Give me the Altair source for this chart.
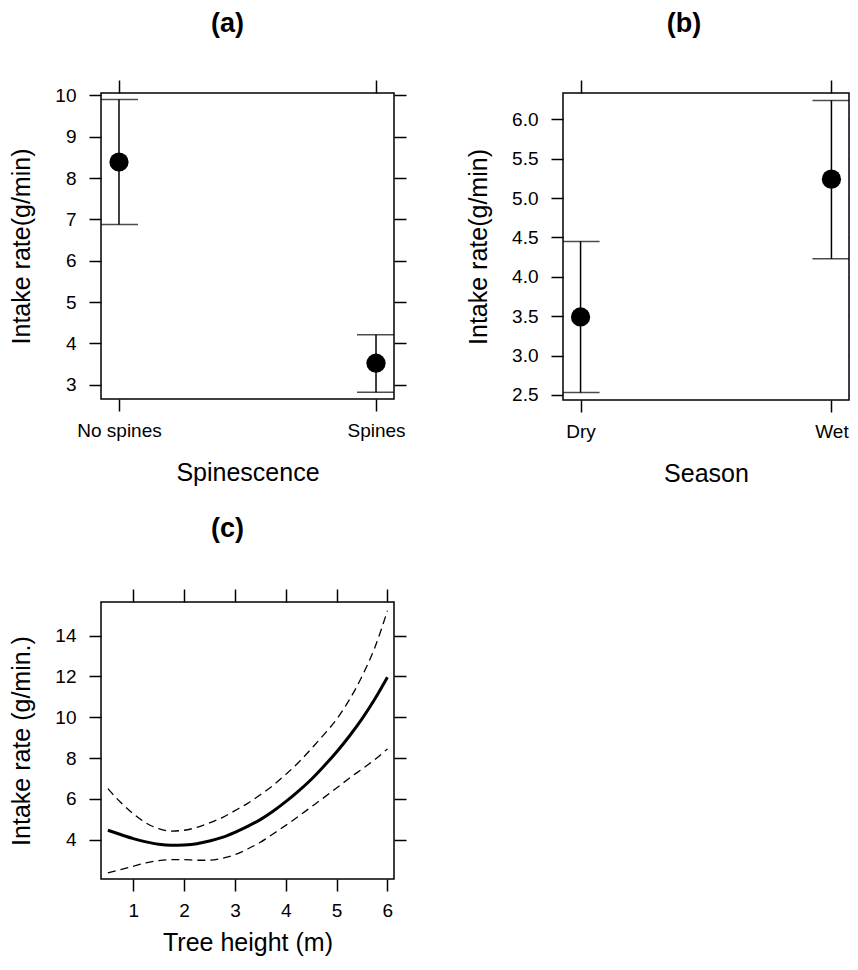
import altair as alt
import pandas as pd

FONT = "Liberation Sans"

# ---- Panel (a): spinescence ----
spine_cats = ["No spines", "Spines"]
spine_mean = [8.39, 3.52]
spine_lo = [6.88, 2.82]
spine_hi = [9.90, 4.21]
spine_yticks = [3, 4, 5, 6, 7, 8, 9, 10]

# ---- Panel (b): season ----
season_cats = ["Dry", "Wet"]
season_mean = [3.49, 5.24]
season_lo = [2.53, 4.23]
season_hi = [4.45, 6.24]
season_yticks = [2.5, 3.0, 3.5, 4.0, 4.5, 5.0, 5.5, 6.0]

# ---- Panel (c): tree height ----
tree_height = [0.5, 0.75, 1.0, 1.25, 1.5, 1.75, 2.0, 2.25, 2.5, 2.75, 3.0, 3.25,
               3.5, 3.75, 4.0, 4.25, 4.5, 4.75, 5.0, 5.25, 5.5, 5.75, 6.0]
fit = [4.46, 4.25, 4.05, 3.89, 3.77, 3.72, 3.74, 3.80, 3.93, 4.11, 4.36, 4.65,
       4.98, 5.39, 5.86, 6.38, 6.95, 7.60, 8.30, 9.07, 9.92, 10.88, 11.96]
upper = [6.50, 5.83, 5.27, 4.82, 4.54, 4.42, 4.46, 4.60, 4.82, 5.08, 5.42, 5.78,
         6.20, 6.66, 7.20, 7.78, 8.45, 9.15, 9.90, 10.85, 12.00, 13.40, 15.22]
lower = [2.37, 2.53, 2.69, 2.86, 2.97, 3.02, 3.02, 2.99, 2.99, 3.08, 3.26, 3.54,
         3.87, 4.28, 4.70, 5.14, 5.60, 6.06, 6.53, 7.01, 7.46, 7.92, 8.45]
tree_xticks = [1, 2, 3, 4, 5, 6]
tree_yticks = [4, 6, 8, 10, 12, 14]

LAB = 19
TIT = 25
LW = 1.5


def main_title(text, offset, dx):
    return alt.TitleParams(text=text, font=FONT, fontSize=27, fontWeight="bold",
                           color="black", anchor="middle", offset=offset, dx=dx)


def cat_panel(cats, mean, lo, hi, ydomain, yticks, yfmt, xtitle, ttl, w, h,
              right_tick, tdx):
    df = pd.DataFrame({"pos": [1, 2], "cat": cats, "mean": mean, "lo": lo, "hi": hi})
    label_expr = f"datum.value == 1 ? '{cats[0]}' : '{cats[1]}'"
    xs = alt.Scale(domain=[0.93, 2.07], nice=False, zero=False)
    ys = alt.Scale(domain=ydomain, nice=False, zero=False)
    base = alt.Chart(df)
    bars = base.mark_rule(color="black", strokeWidth=LW).encode(
        x=alt.X("pos:Q", scale=xs,
                axis=alt.Axis(orient="bottom", values=[1, 2], labelExpr=label_expr,
                              title=xtitle, tickSize=12, labelPadding=10,
                              titlePadding=20)),
        y=alt.Y("lo:Q", scale=ys,
                axis=alt.Axis(orient="left", values=yticks, format=yfmt,
                              title="Intake rate(g/min)", tickSize=12,
                              labelPadding=13, titlePadding=20)),
        y2="hi:Q",
    )
    cap_hi = base.mark_tick(orient="horizontal", color="black", size=38,
                            thickness=LW, clip=True).encode(
        x=alt.X("pos:Q", scale=xs, axis=None),
        y=alt.Y("hi:Q", scale=ys, axis=None),
    )
    cap_lo = base.mark_tick(orient="horizontal", color="black", size=38,
                            thickness=LW, clip=True).encode(
        x=alt.X("pos:Q", scale=xs, axis=None),
        y=alt.Y("lo:Q", scale=ys, axis=None),
    )
    pts = base.mark_circle(size=370, color="black", opacity=1).encode(
        x=alt.X("pos:Q", scale=xs,
                axis=alt.Axis(orient="top", values=[1, 2], labels=False, title=None,
                              tickSize=13)),
        y=alt.Y("mean:Q", scale=ys,
                axis=alt.Axis(orient="right", values=yticks, labels=False, title=None,
                              tickSize=right_tick)),
    )
    return alt.layer(bars, cap_hi, cap_lo, pts).properties(
        width=w, height=h, title=main_title(ttl, 41, tdx))


panel_a = cat_panel(spine_cats, spine_mean, spine_lo, spine_hi, [2.654, 10.06],
                    spine_yticks, "d", "Spinescence", "(a)", 293, 306, 12, -20)
panel_b = cat_panel(season_cats, season_mean, season_lo, season_hi, [2.436, 6.334],
                    season_yticks, ".1f", "Season", "(b)", 286, 307, 8, -22)

df_c = pd.DataFrame({"h": tree_height, "fit": fit, "upper": upper, "lower": lower})
xs_c = alt.Scale(domain=[0.365, 6.13], nice=False, zero=False)
ys_c = alt.Scale(domain=[2.07, 15.65], nice=False, zero=False)
base_c = alt.Chart(df_c)
fit_line = base_c.mark_line(color="black", strokeWidth=3, interpolate="monotone").encode(
    x=alt.X("h:Q", scale=xs_c,
            axis=alt.Axis(orient="bottom", values=tree_xticks, title="Tree height (m)",
                          tickSize=12, labelPadding=10, titlePadding=10)),
    y=alt.Y("fit:Q", scale=ys_c,
            axis=alt.Axis(orient="left", values=tree_yticks, title="Intake rate (g/min.)",
                          tickSize=12, labelPadding=13, titlePadding=20)),
)
up_line = base_c.mark_line(color="black", strokeWidth=1.3, strokeDash=[8, 5],
                           interpolate="monotone").encode(
    x=alt.X("h:Q", scale=xs_c,
            axis=alt.Axis(orient="top", values=tree_xticks, labels=False, title=None,
                          tickSize=13)),
    y=alt.Y("upper:Q", scale=ys_c,
            axis=alt.Axis(orient="right", values=tree_yticks, labels=False, title=None,
                          tickSize=12)),
)
lo_line = base_c.mark_line(color="black", strokeWidth=1.3, strokeDash=[8, 5],
                           interpolate="monotone").encode(
    x=alt.X("h:Q", scale=xs_c, axis=None),
    y=alt.Y("lower:Q", scale=ys_c, axis=None),
)
panel_c = alt.layer(fit_line, up_line, lo_line).properties(
    width=293, height=277, title=main_title("(c)", 45, -20))

chart = alt.concat(panel_a, panel_b, panel_c, columns=2,
                   spacing={"row": 202, "column": 169}, bounds="flush").properties(
    autosize=alt.AutoSizeParams(type="none"),
    padding={"left": 93, "top": 85, "right": 749, "bottom": 867}
).configure(
    font=FONT, background="white"
).configure_view(
    stroke="black", strokeWidth=LW
).configure_axis(
    domain=False, grid=False, tickColor="black", tickWidth=LW,
    labelColor="black", titleColor="black", labelFont=FONT, titleFont=FONT,
    labelFontSize=LAB, titleFontSize=TIT, titleFontWeight="normal",
)

chart.save("out.html", embed_options={"renderer": "svg", "actions": False})
